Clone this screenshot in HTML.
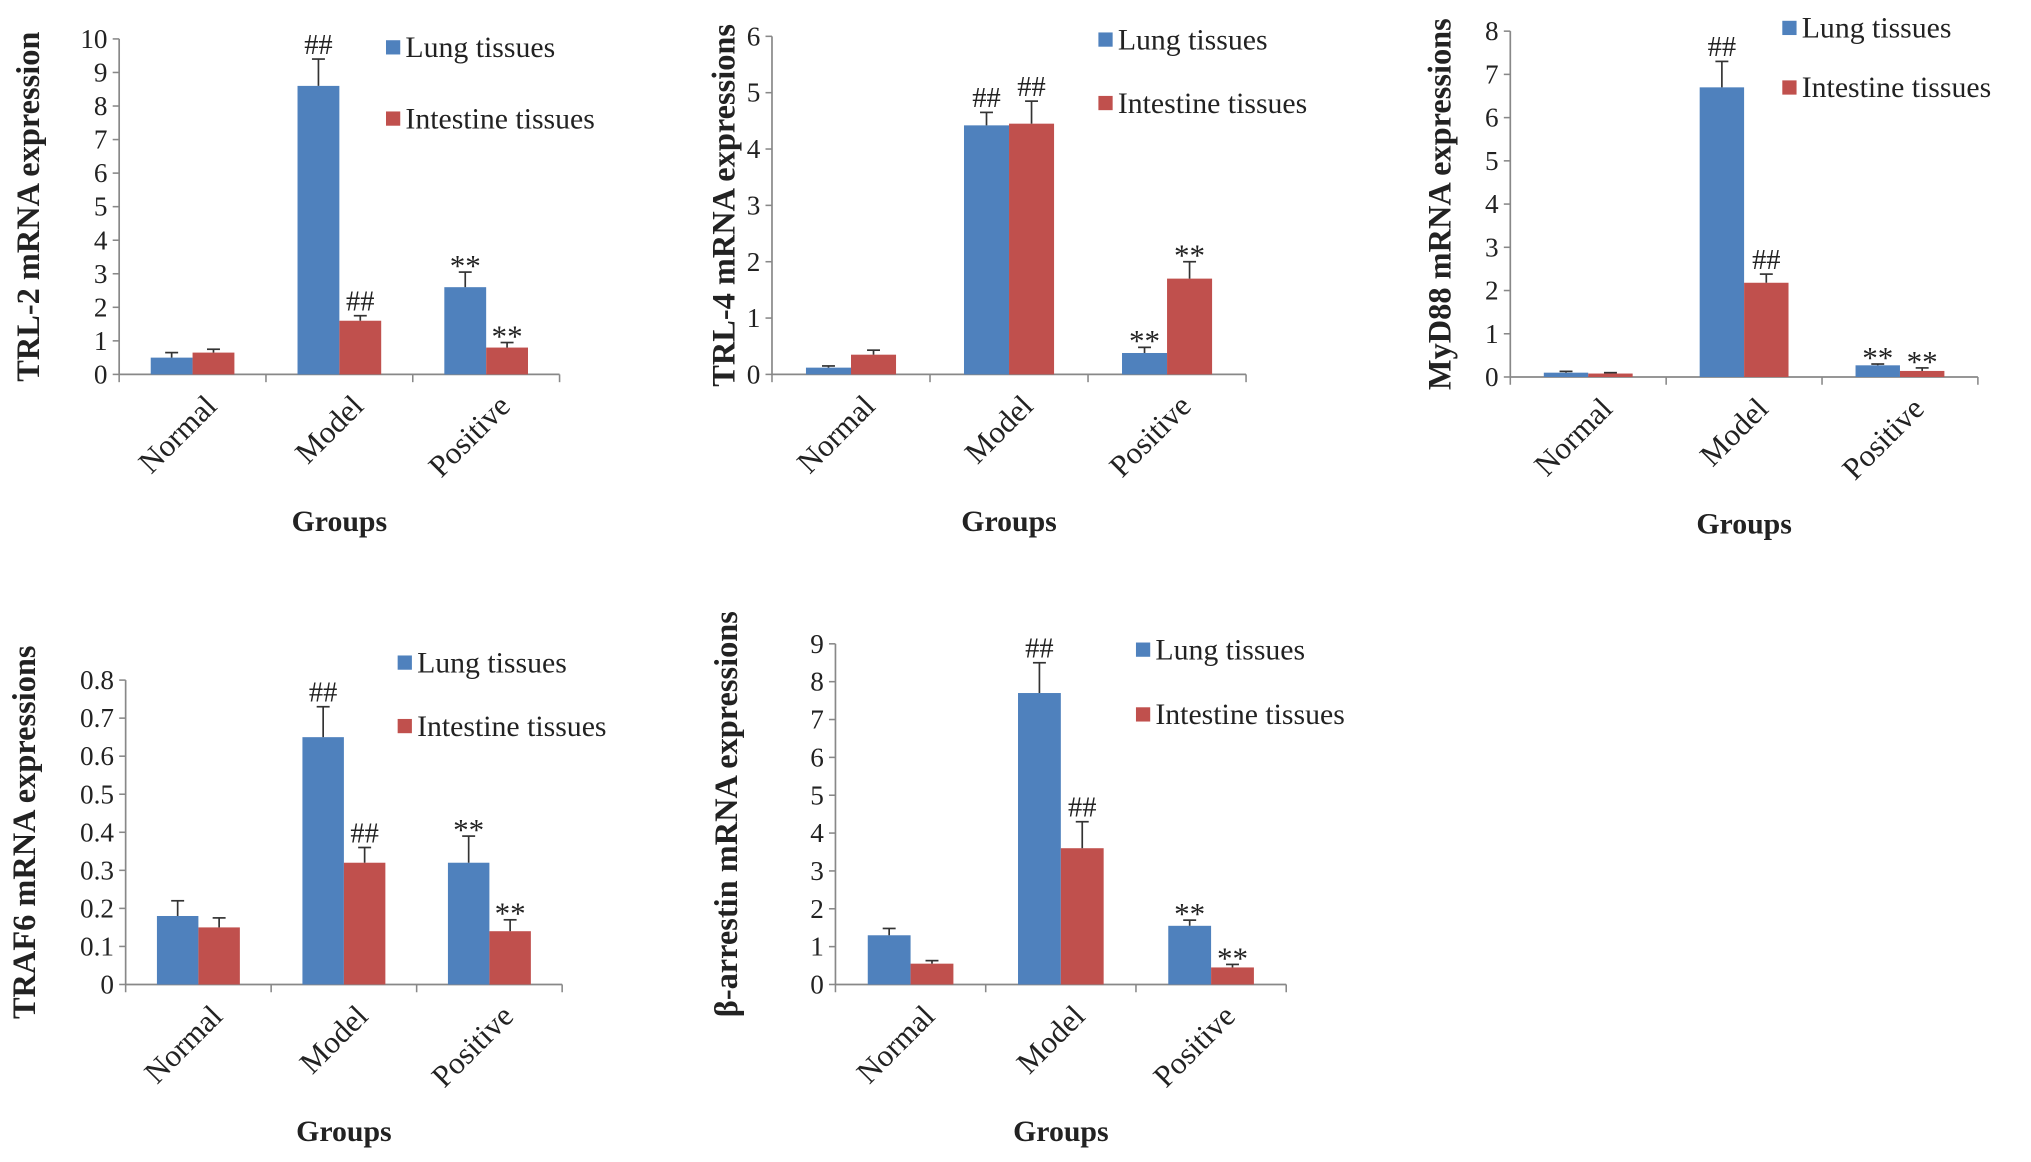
<!DOCTYPE html>
<html><head><meta charset="utf-8"><style>
html,body{margin:0;padding:0;background:#fff}
svg{display:block}
text{font-family:"Liberation Serif",serif;fill:#222}
</style></head><body>
<svg id="fig" width="2031" height="1162" viewBox="0 0 1568 897" xmlns="http://www.w3.org/2000/svg"></svg>
<script>
const categories = ["Normal","Model","Positive"];
const lung1=[0.5,8.6,2.6], lung1Err=[0.15,0.8,0.45], int1=[0.65,1.6,0.8], int1Err=[0.1,0.15,0.15];
const ann1L=["","##","**"], ann1I=["","##","**"];
const ticks1=[0,1,2,3,4,5,6,7,8,9,10];
const lung2=[0.12,4.42,0.38], lung2Err=[0.03,0.23,0.1], int2=[0.35,4.45,1.7], int2Err=[0.08,0.4,0.3];
const ann2L=["","##","**"], ann2I=["","##","**"];
const ticks2=[0,1,2,3,4,5,6];
const lung3=[0.1,6.7,0.27], lung3Err=[0.03,0.6,0.03], int3=[0.08,2.18,0.14], int3Err=[0.02,0.2,0.07];
const ann3L=["","##","**"], ann3I=["","##","**"];
const ticks3=[0,1,2,3,4,5,6,7,8];
const lung4=[0.18,0.65,0.32], lung4Err=[0.04,0.08,0.07], int4=[0.15,0.32,0.14], int4Err=[0.025,0.04,0.03];
const ann4L=["","##","**"], ann4I=["","##","**"];
const ticks4=["0","0.1","0.2","0.3","0.4","0.5","0.6","0.7","0.8"];
const lung5=[1.3,7.7,1.55], lung5Err=[0.18,0.8,0.15], int5=[0.55,3.6,0.45], int5Err=[0.08,0.7,0.08];
const ann5L=["","##","**"], ann5I=["","##","**"];
const ticks5=[0,1,2,3,4,5,6,7,8,9];

const NS="http://www.w3.org/2000/svg";
const svg=document.getElementById('fig');
function mk(tag,attrs,parent){const e=document.createElementNS(NS,tag);for(const k in attrs)e.setAttribute(k,attrs[k]);(parent||svg).appendChild(e);return e;}

function chart(o){
  const g=mk('g',{});
  
  
  const max=+o.ticks[o.ticks.length-1];
  const y=v=>o.y0-(v/max)*(o.y0-o.yTop);
  const gw=(o.x1-o.x0)/3;
  const bw=gw*0.285;
  const ya=mk('line',{x1:o.x0,y1:o.yTop,x2:o.x0,y2:o.y0,stroke:'#888','stroke-width':1.3},g);
  
  
  const xa=mk('line',{x1:o.x0,y1:o.y0,x2:o.x1,y2:o.y0,stroke:'#888','stroke-width':1.3},g);
  
  
  o.ticks.forEach(t=>{
    const yy=y(+t);
    mk('line',{x1:o.x0-5,y1:yy,x2:o.x0,y2:yy,stroke:'#888','stroke-width':1.2},g);
    const tl=mk('text',{x:o.x0-9,y:yy+7,'text-anchor':'end','font-size':21},g);
    tl.textContent=t;
    
    
  });
  for(let i=0;i<=3;i++){mk('line',{x1:o.x0+gw*i,y1:o.y0,x2:o.x0+gw*i,y2:o.y0+6,stroke:'#888','stroke-width':1.2},g);}
  categories.forEach((c,i)=>{
    const cx=o.x0+gw*(i+0.5);
    [[o.lung,o.lungErr,'#4f81bd',-1,o.annL,'lung'],[o.int,o.intErr,'#c0504d',0,o.annI,'intestine']].forEach(([vals,errs,col,off,ann,nm])=>{
      const bx=cx+off*bw;
      const r=mk('rect',{x:bx,y:y(vals[i]),width:bw,height:o.y0-y(vals[i]),fill:col},g);
      
      
      const ex=bx+bw/2, et=y(vals[i]+errs[i]);
      mk('line',{x1:ex,y1:y(vals[i]),x2:ex,y2:et,stroke:'#333','stroke-width':1.3},g);
      mk('line',{x1:ex-5,y1:et,x2:ex+5,y2:et,stroke:'#333','stroke-width':1.3},g);
      if(ann[i]){
        const at=mk('text',{x:ex,y:et-(ann[i]=='**'?-3:4),'text-anchor':'middle','font-size':ann[i]=='**'?24:22,fill:'#333'},g);
        at.textContent=ann[i];
        
        
      }
    });
    const lx=cx+8, ly=o.y0+14;
    const cl=mk('text',{x:lx,y:ly,'text-anchor':'end','font-size':24,transform:`rotate(-45 ${lx} ${ly})`,dy:'0.7em'},g);
    cl.textContent=c;
    
    
  });
  const xt=mk('text',{x:(o.x0+o.x1)/2,y:o.gy,'text-anchor':'middle','font-size':23,'font-weight':'bold'},g);
  xt.textContent='Groups';
  
  
  const ty=(o.y0+o.yTop)/2+o.tOff;
  const yt=mk('text',{x:o.tx,y:ty,'text-anchor':'middle','font-size':25,'font-weight':'bold',transform:`rotate(-90 ${o.tx} ${ty})`},g);
  yt.textContent=o.title;
  
  
  [['Lung tissues','#4f81bd',o.ly1,'lung'],['Intestine tissues','#c0504d',o.ly2,'intestine']].forEach(([t,c,ly,nm])=>{
    const sq=mk('rect',{x:o.lx,y:ly-6,width:11,height:11,fill:c},g);
    
    
    const lt=mk('text',{x:o.lx+15,y:ly+7,'font-size':23},g);
    lt.textContent=t;
    
    
  });
}
chart({name:'chart-trl2',x0:92,x1:432,yTop:30,y0:289,ticks:ticks1,lung:lung1,lungErr:lung1Err,int:int1,intErr:int1Err,annL:ann1L,annI:ann1I,title:'TRL-2 mRNA expression',tx:30,tOff:0,gy:410,lx:298,ly1:37,ly2:92});
chart({name:'chart-trl4',x0:596,x1:962,yTop:28,y0:289,ticks:ticks2,lung:lung2,lungErr:lung2Err,int:int2,intErr:int2Err,annL:ann2L,annI:ann2I,title:'TRL-4 mRNA expressions',tx:567,tOff:0,gy:410,lx:848,ly1:31,ly2:80});
chart({name:'chart-myd88',x0:1166,x1:1527,yTop:24,y0:291,ticks:ticks3,lung:lung3,lungErr:lung3Err,int:int3,intErr:int3Err,annL:ann3L,annI:ann3I,title:'MyD88 mRNA expressions',tx:1120,tOff:0,gy:412,lx:1376,ly1:22,ly2:68});
chart({name:'chart-traf6',x0:97,x1:434,yTop:525,y0:760,ticks:ticks4,lung:lung4,lungErr:lung4Err,int:int4,intErr:int4Err,annL:ann4L,annI:ann4I,title:'TRAF6 mRNA expressions',tx:27,tOff:0,gy:881,lx:307,ly1:512,ly2:561});
chart({name:'chart-beta-arrestin',x0:645,x1:993,yTop:497,y0:760,ticks:ticks5,lung:lung5,lungErr:lung5Err,int:int5,intErr:int5Err,annL:ann5L,annI:ann5I,title:'β-arrestin mRNA expressions',tx:569,tOff:0,gy:881,lx:877,ly1:502,ly2:552});
</script>
</body></html>
